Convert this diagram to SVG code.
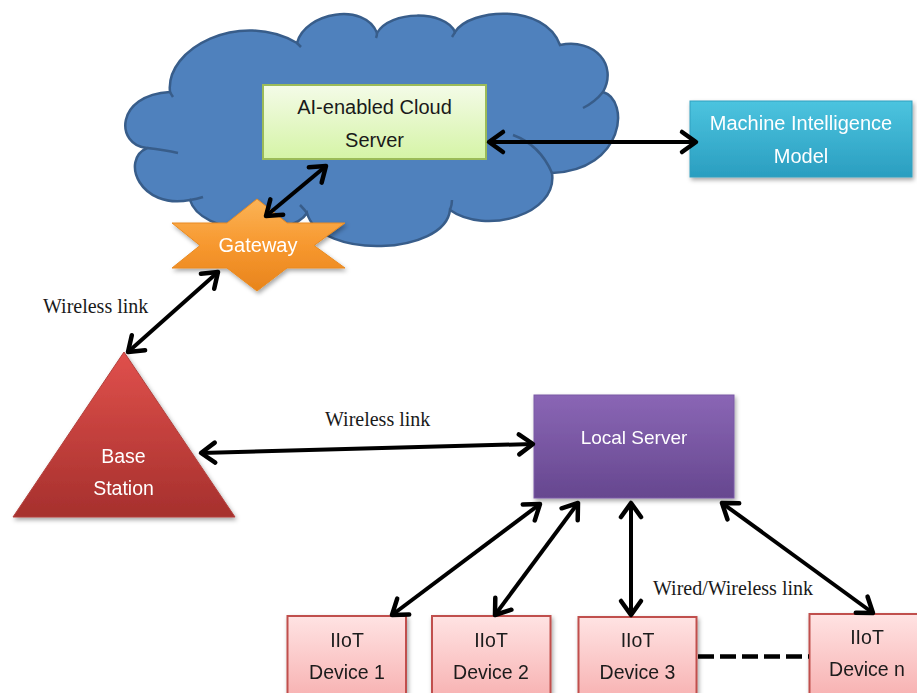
<svg xmlns="http://www.w3.org/2000/svg" width="917" height="693" viewBox="0 0 917 693">
<style>
.lbl{font-family:"Liberation Sans","Open Sans",sans-serif;text-anchor:middle;}
.dark{fill:#1a1a1a;}
.white{fill:#ffffff;}
.serif{font-family:"Liberation Serif","DejaVu Serif",serif;font-size:20px;fill:#1a1a1a;}
.arrow{stroke:#000;stroke-width:4;fill:none;marker-start:url(#chev);marker-end:url(#chev);}
.crease{fill:none;stroke:#385D8A;stroke-width:2.5;}
</style>
<defs>
<marker id="chev" markerUnits="userSpaceOnUse" markerWidth="40" markerHeight="40" viewBox="-20 -20 40 40" refX="0" refY="0" orient="auto-start-reverse" overflow="visible">
<polyline points="-14,-10 0,0 -14,10" fill="none" stroke="#000" stroke-width="4.5" stroke-linecap="round" stroke-linejoin="round"/>
</marker>
<linearGradient id="gGreen" x1="0" y1="0" x2="0" y2="1"><stop offset="0" stop-color="#F4FBE8"/><stop offset="1" stop-color="#D5F4A6"/></linearGradient>
<linearGradient id="gTeal" x1="0" y1="0" x2="0" y2="1"><stop offset="0" stop-color="#4CC4DF"/><stop offset="1" stop-color="#2A9EC0"/></linearGradient>
<linearGradient id="gOrange" x1="0" y1="0" x2="0" y2="1"><stop offset="0" stop-color="#FBB457"/><stop offset="0.5" stop-color="#F7982F"/><stop offset="1" stop-color="#E8841C"/></linearGradient>
<linearGradient id="gRed" x1="0" y1="0" x2="0" y2="1"><stop offset="0" stop-color="#E0504C"/><stop offset="1" stop-color="#A6302D"/></linearGradient>
<linearGradient id="gPurple" x1="0" y1="0" x2="0" y2="1"><stop offset="0" stop-color="#8A66B5"/><stop offset="1" stop-color="#66478F"/></linearGradient>
<linearGradient id="gPink" x1="0" y1="0" x2="0" y2="1"><stop offset="0" stop-color="#FFE3E3"/><stop offset="1" stop-color="#F7B0B0"/></linearGradient>
<filter id="sh" x="-10%" y="-10%" width="125%" height="130%"><feDropShadow dx="1.5" dy="2.5" stdDeviation="2" flood-color="#000" flood-opacity="0.35"/></filter>
</defs>

<g id="cloud">
<path d="M147,148 C115,145 115,95 170,92 C165,48 240,10 297,43 C305,12 365,2 377,33 C390,10 445,10 455,32 C470,8 545,3 560,45 C595,38 618,65 603,92 C630,100 625,170 552,173 C558,215 485,235 450,210 C445,255 320,260 307,213 C290,240 200,235 190,200 C140,210 120,160 147,148 Z" fill="#4F81BD" stroke="#385D8A" stroke-width="2.5"/>
<path class="crease" d="M147,148 Q165,150 178,153"/>
<path class="crease" d="M190,200 Q197,199 203,197"/>
<path class="crease" d="M170,92 Q171,94 173,97"/>
<path class="crease" d="M297,43 Q299,45 301,47"/>
<path class="crease" d="M377,33 Q377,36 376,38"/>
<path class="crease" d="M455,32 Q454,34 452,37"/>
<path class="crease" d="M603,92 Q595,102 583,108"/>
<path class="crease" d="M513,135 Q540,145 552,173"/>
<path class="crease" d="M450,210 Q452,205 452,200"/>
<path class="crease" d="M307,213 Q304,209 300,205"/>
</g>

<g id="cloud-server">
<rect x="263" y="85" width="223" height="74" fill="url(#gGreen)" stroke="#9BBB59" stroke-width="2"/>
<text class="lbl dark" x="374.5" y="114" font-size="20">AI-enabled Cloud</text>
<text class="lbl dark" x="374.5" y="147" font-size="20">Server</text>
</g>

<g id="machine-intelligence" filter="url(#sh)">
<rect x="690" y="101" width="222" height="76" fill="url(#gTeal)" stroke="#31A0BF" stroke-width="1"/>
<text class="lbl white" x="801" y="130" font-size="20">Machine Intelligence</text>
<text class="lbl white" x="801" y="163" font-size="20">Model</text>
</g>

<g id="gateway" filter="url(#sh)">
<polygon points="257,199 287,223 345,223 314,245.5 345,268 287,268 257,291 227,268 172,268 200,245.5 172,223 227,223" fill="url(#gOrange)" stroke="#E98A20" stroke-width="1"/>
<text class="lbl white" x="258" y="252" font-size="20">Gateway</text>
</g>

<g id="base-station" filter="url(#sh)">
<polygon points="124,352 235,517 13,517" fill="url(#gRed)" stroke="#B3413D" stroke-width="1"/>
<text class="lbl white" x="123.5" y="463" font-size="19.5">Base</text>
<text class="lbl white" x="123.5" y="495" font-size="19.5">Station</text>
</g>

<g id="local-server" filter="url(#sh)">
<rect x="534" y="395" width="200" height="103" fill="url(#gPurple)" stroke="#7B5AA6" stroke-width="1"/>
<text class="lbl white" x="634" y="443.5" font-size="19">Local Server</text>
</g>

<g id="device-1" filter="url(#sh)">
<rect x="287.5" y="616" width="118.5" height="85" fill="url(#gPink)" stroke="#C0504D" stroke-width="2"/>
<text class="lbl dark" x="347" y="647" font-size="19.5">IIoT</text>
<text class="lbl dark" x="347" y="679" font-size="19.5">Device 1</text>
</g>

<g id="device-2" filter="url(#sh)">
<rect x="432" y="616" width="118.5" height="85" fill="url(#gPink)" stroke="#C0504D" stroke-width="2"/>
<text class="lbl dark" x="491" y="647" font-size="19.5">IIoT</text>
<text class="lbl dark" x="491" y="679" font-size="19.5">Device 2</text>
</g>

<g id="device-3" filter="url(#sh)">
<rect x="578.5" y="617" width="118" height="85" fill="url(#gPink)" stroke="#C0504D" stroke-width="2"/>
<text class="lbl dark" x="637.5" y="647" font-size="19.5">IIoT</text>
<text class="lbl dark" x="637.5" y="679" font-size="19.5">Device 3</text>
</g>

<g id="device-n" filter="url(#sh)">
<rect x="809.5" y="614" width="118" height="85" fill="url(#gPink)" stroke="#C0504D" stroke-width="2"/>
<text class="lbl dark" x="867" y="644" font-size="19.5">IIoT</text>
<text class="lbl dark" x="867" y="675.5" font-size="19.5">Device n</text>
</g>

<g id="connectors">
<line class="arrow" x1="489" y1="142" x2="696" y2="142"/>
<line class="arrow" x1="326" y1="166" x2="266" y2="216"/>
<line class="arrow" x1="218" y1="272" x2="128" y2="352"/>
<line class="arrow" x1="201" y1="453" x2="533" y2="444"/>
<line class="arrow" x1="540" y1="504" x2="392" y2="615"/>
<line class="arrow" x1="578" y1="503" x2="495" y2="615"/>
<line class="arrow" x1="631" y1="503" x2="631" y2="615"/>
<line class="arrow" x1="722" y1="503" x2="873" y2="613"/>
<line x1="698" y1="656.5" x2="809" y2="656.5" stroke="#000" stroke-width="4.5" stroke-dasharray="16,6"/>
<text class="serif" x="43" y="313">Wireless link</text>
<text class="serif" x="325" y="426">Wireless link</text>
<text class="serif" x="653" y="595">Wired/Wireless link</text>
</g>
</svg>
